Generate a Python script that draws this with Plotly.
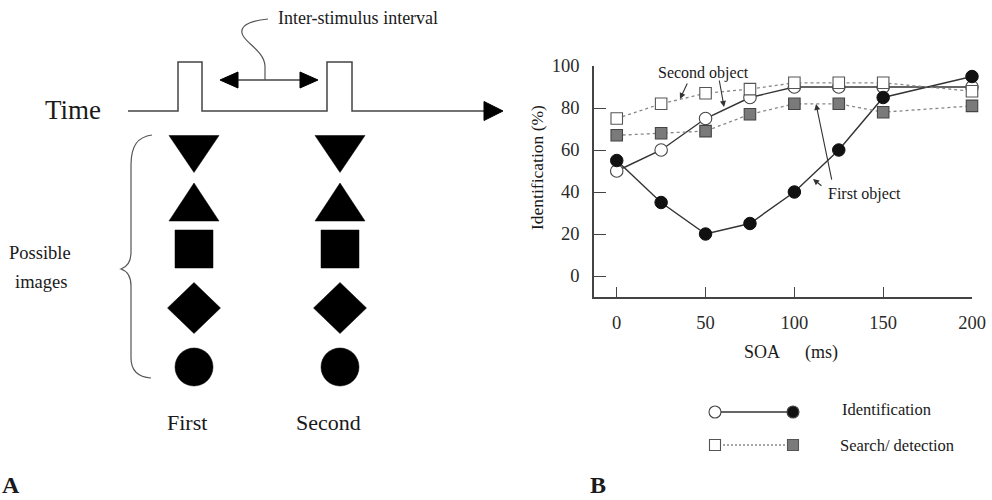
import plotly.graph_objects as go

# ---- Panel B data: identification / detection vs SOA ----
soa_ms = [0, 25, 50, 75, 100, 125, 150, 200]
ident_first = [55, 35, 20, 25, 40, 60, 85, 95]
ident_second = [50, 60, 75, 85, 90, 90, 90, 90]
search_first = [67, 68, 69, 77, 82, 82, 78, 81]
search_second = [75, 82, 87, 89, 92, 92, 92, 88]
x_ticks = [0, 50, 100, 150, 200]
y_ticks = [0, 20, 40, 60, 80, 100]

# ---- Panel A schematic (page pixel coordinates) ----
column_labels = ["First", "Second"]
column_x = [194, 340]
symbol_rows = ["triangle-down", "triangle-up", "square", "diamond", "circle"]
symbol_y = [154, 202, 249, 308, 367]
pulse_edges = [(178, 202), (327, 352)]

SERIF = "Liberation Serif"
INK = "#1a1a1a"
LINE = "#333333"

fig = go.Figure()

# ---- Panel B traces ----
fig.add_trace(go.Scatter(
    x=soa_ms, y=ident_second, mode="lines+markers", cliponaxis=False,
    line=dict(color=LINE, width=1.4),
    marker=dict(symbol="circle", size=12.5, color="white", line=dict(color="#444", width=1.1)),
))
fig.add_trace(go.Scatter(
    x=soa_ms, y=ident_first, mode="lines+markers", cliponaxis=False,
    line=dict(color=LINE, width=1.4),
    marker=dict(symbol="circle", size=12.5, color="#111", line=dict(color="#111", width=1)),
))
fig.add_trace(go.Scatter(
    x=soa_ms, y=search_second, mode="lines+markers", cliponaxis=False,
    line=dict(color="#888", width=1.3, dash="3px,3px"),
    marker=dict(symbol="square", size=11.5, color="white", line=dict(color="#555", width=1.1)),
))
fig.add_trace(go.Scatter(
    x=soa_ms, y=search_first, mode="lines+markers", cliponaxis=False,
    line=dict(color="#888", width=1.3, dash="3px,3px"),
    marker=dict(symbol="square", size=11.5, color="#7a7a7a", line=dict(color="#444", width=1.1)),
))

# ---- Panel B legend keys (drawn in page pixels) ----
legend_x = [715, 793]
legend_rows = [412, 445]
fig.add_trace(go.Scatter(
    x=legend_x, y=[legend_rows[0]] * 2, xaxis="x2", yaxis="y2", mode="lines+markers",
    cliponaxis=False, line=dict(color=LINE, width=1.3),
    marker=dict(symbol="circle", size=12, color=["white", "#111"], line=dict(color="#444", width=1.1)),
))
fig.add_trace(go.Scatter(
    x=legend_x, y=[legend_rows[1]] * 2, xaxis="x2", yaxis="y2", mode="lines+markers",
    cliponaxis=False, line=dict(color="#888", width=1.3, dash="2px,2px"),
    marker=dict(symbol="square", size=11, color=["white", "#7a7a7a"], line=dict(color="#555", width=1.1)),
))

shapes = []

# time line with two stimulus pulses
base_y, top_y = 111, 62
path = f"M128,{base_y}"
for x0, x1 in pulse_edges:
    path += f" H{x0} V{top_y} H{x1} V{base_y}"
path += " H486"
shapes.append(dict(type="path", path=path, xref="x2", yref="y2",
                   line=dict(color="#444", width=1.5)))
shapes.append(dict(type="path", path=f"M484,{base_y-9.5} L503,{base_y} L484,{base_y+9.5} Z",
                   xref="x2", yref="y2", fillcolor="#000", line=dict(color="#000", width=1)))

# inter-stimulus double arrow and its curly leader
shapes.append(dict(type="line", x0=232, x1=306, y0=80, y1=80, xref="x2", yref="y2",
                   line=dict(color="#444", width=1.4)))
shapes.append(dict(type="path", path="M220,80 L238,72 L238,88 Z", xref="x2", yref="y2",
                   fillcolor="#000", line=dict(color="#000", width=1)))
shapes.append(dict(type="path", path="M318,80 L300,72 L300,88 Z", xref="x2", yref="y2",
                   fillcolor="#000", line=dict(color="#000", width=1)))
shapes.append(dict(type="path", path="M268,19 C255,20 240,24 242,33 C243,42 264,50 265,66 L265,80",
                   xref="x2", yref="y2", line=dict(color="#555", width=1.2)))

# brace around the possible images
shapes.append(dict(type="path",
                   path="M152,135 C138,137 131,145 131,165 L131,252 C131,262 127,267 121,269 "
                        "C127,271 131,276 131,286 L131,358 C131,370 138,377 151,378",
                   xref="x2", yref="y2", line=dict(color="#555", width=1.2)))

# the five candidate shapes, for each stimulus
for cx in column_x:
    for kind, cy in zip(symbol_rows, symbol_y):
        style = dict(xref="x2", yref="y2", fillcolor="#000", line=dict(color="#000", width=0.5))
        if kind == "triangle-down":
            shapes.append(dict(type="path",
                               path=f"M{cx-25},{cy-18.5} L{cx+25},{cy-18.5} L{cx},{cy+18.5} Z", **style))
        elif kind == "triangle-up":
            shapes.append(dict(type="path",
                               path=f"M{cx-25},{cy+19} L{cx+25},{cy+19} L{cx},{cy-19} Z", **style))
        elif kind == "square":
            shapes.append(dict(type="rect", x0=cx-19, x1=cx+19, y0=cy-19, y1=cy+19, **style))
        elif kind == "diamond":
            shapes.append(dict(type="path",
                               path=f"M{cx},{cy-25.5} L{cx+26.5},{cy} L{cx},{cy+25.5} L{cx-26.5},{cy} Z", **style))
        else:
            shapes.append(dict(type="circle", x0=cx-19, x1=cx+19, y0=cy-19, y1=cy+19, **style))

annotations = []


def page_text(text, x, y, size, xanchor="center", bold=False, angle=0):
    annotations.append(dict(
        text=f"<b>{text}</b>" if bold else text, x=x, y=y, xref="x2", yref="y2",
        xanchor=xanchor, yanchor="middle", showarrow=False, textangle=angle,
        font=dict(family=SERIF, size=size, color=INK),
    ))


page_text("Inter-stimulus interval", 276, 18, 18, xanchor="left")
page_text("Time", 43, 110, 27, xanchor="left")
page_text("Possible", 40, 253, 18.5)
page_text("images", 41, 282, 18.5)
for label, cx in zip(column_labels, [187, 328]):
    page_text(label, cx, 422, 22)
page_text("A", 0, 485, 24, xanchor="left", bold=True)
page_text("B", 588, 485, 24, xanchor="left", bold=True)

# Panel B axis titles and legend text
page_text("SOA", 762, 352, 18)
page_text("(ms)", 821, 352, 18)
page_text("Identification (%)", 537, 168, 17.5, angle=-90)
page_text("Identification", 840, 409, 16.5, xanchor="left")
page_text("Search/ detection", 838, 445, 16.5, xanchor="left")

# Panel B call-outs
annotations.append(dict(text="Second object", x=48.6, y=96.7, xref="x", yref="y",
                        showarrow=False, font=dict(family=SERIF, size=16, color=INK)))
annotations.append(dict(text="First object", x=139.7, y=39, xref="x", yref="y",
                        showarrow=False, font=dict(family=SERIF, size=16, color=INK)))
for (tx, ty, hx, hy) in [(40.1, 92.4, 35.6, 84.3), (57.6, 93.8, 60.4, 80.5),
                         (121.2, 45.2, 112.2, 81.9), (116.1, 42.4, 110.5, 46.2)]:
    annotations.append(dict(text="", x=hx, y=hy, ax=tx, ay=ty, xref="x", yref="y",
                            axref="x", ayref="y", showarrow=True, arrowhead=2,
                            arrowsize=1.1, arrowwidth=1.1, arrowcolor="#333"))

tickfont = dict(family=SERIF, size=18.5, color="#2a2a2a")
fig.update_layout(
    template="none",
    width=992, height=500, autosize=False,
    margin=dict(l=0, r=0, t=0, b=0, pad=0, autoexpand=False),
    paper_bgcolor="white", plot_bgcolor="rgba(0,0,0,0)", showlegend=False,
    xaxis=dict(domain=[594 / 992, 972 / 992], range=[-12.8, 200], anchor="y", automargin=False,
               tickvals=x_ticks, ticks="inside", ticklen=10, tickwidth=1.3, tickcolor="#444",
               showline=True, linecolor="#444", linewidth=1.5, showgrid=False, zeroline=False,
               tickfont=tickfont, ticklabelstandoff=8),
    yaxis=dict(domain=[1 - 297 / 500, 1 - 66 / 500], range=[-10, 100], anchor="x", automargin=False,
               tickvals=y_ticks, ticks="inside", ticklen=12, tickwidth=1.3, tickcolor="#444",
               showline=True, linecolor="#444", linewidth=1.5, showgrid=False, zeroline=False,
               tickfont=tickfont, ticklabelstandoff=9),
    xaxis2=dict(domain=[0, 1], range=[0, 992], anchor="y2", visible=False, automargin=False),
    yaxis2=dict(domain=[0, 1], range=[500, 0], anchor="x2", visible=False, automargin=False),
    shapes=shapes, annotations=annotations,
)

fig.write_html("out.html", post_script="document.body.style.margin='0';")
